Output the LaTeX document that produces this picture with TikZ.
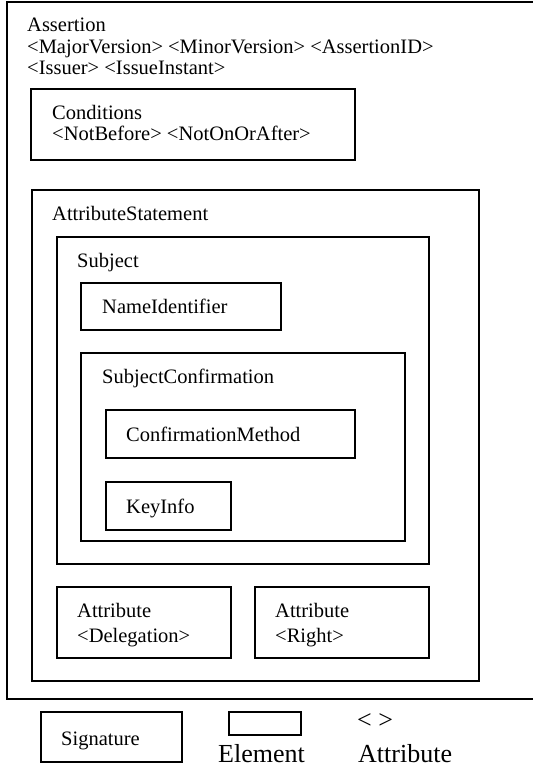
\documentclass[tikz,border=0pt]{standalone}
\usepackage{fontspec}
\setmainfont{Liberation Serif}
\begin{document}
\begin{tikzpicture}[x=1pt,y=-1pt,
  box/.style={draw=black,line width=1.6pt},
  lbl/.style={anchor=base west,inner sep=0pt,font=\fontsize{20.5}{21}\selectfont},
  big/.style={anchor=base west,inner sep=0pt,font=\fontsize{26}{28}\selectfont}]
\useasboundingbox (0,0) rectangle (532,767);

% Assertion (outer element, runs off the right edge)
\draw[box] (540,2) -- (7,2) -- (7,699) -- (540,699);
\node[lbl] (assertion) at (27,32) {Assertion};
\node[lbl] (assertattrA) at (27,54) {<MajorVersion> <MinorVersion> <AssertionID>};
\node[lbl] (assertattrB) at (27,75) {<Issuer> <IssueInstant>};

% Conditions
\draw[box] (31,89) rectangle (355,160);
\node[lbl] (conditions) at (52,120) {Conditions};
\node[lbl] (condattr) at (52,141) {<NotBefore> <NotOnOrAfter>};

% AttributeStatement
\draw[box] (32,190) rectangle (479,681);
\node[lbl] (attrstmt) at (52,220) {AttributeStatement};

% Subject
\draw[box] (57,237) rectangle (429,564);
\node[lbl] (subject) at (77,267) {Subject};

% NameIdentifier
\draw[box] (81,283) rectangle (281,330);
\node[lbl] (nameid) at (102,313) {NameIdentifier};

% SubjectConfirmation
\draw[box] (81,353) rectangle (405,541);
\node[lbl] (subjconf) at (102,383) {SubjectConfirmation};

% ConfirmationMethod
\draw[box] (106,410) rectangle (355,458);
\node[lbl] (confmethod) at (126,441) {ConfirmationMethod};

% KeyInfo
\draw[box] (106,482) rectangle (231,530);
\node[lbl] (keyinfo) at (126,513) {KeyInfo};

% Attribute elements
\draw[box] (57,587) rectangle (231,658);
\node[lbl] (attrA) at (77,617) {Attribute};
\node[lbl] (attrAval) at (77,642) {<Delegation>};
\draw[box] (255,587) rectangle (429,658);
\node[lbl] (attrB) at (275,617) {Attribute};
\node[lbl] (attrBval) at (275,642) {<Right>};

% Signature and legend
\draw[box] (41,712) rectangle (182,762);
\node[lbl] (signature) at (61,745) {Signature};
\draw[box] (229,712) rectangle (301,735);
\node[big] (element) at (218,762) {Element};
\node[big] (brackets) at (357,728) {< >};
\node[big] (attribute) at (358,762) {Attribute};
\end{tikzpicture}
\end{document}
